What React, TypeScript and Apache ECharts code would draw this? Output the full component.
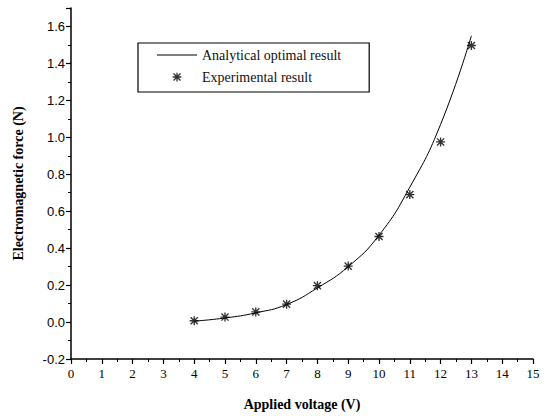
import React, { useEffect, useRef } from "react";
import * as echarts from "echarts";

const voltages = [4, 5, 6, 7, 8, 9, 10, 11, 12, 13];
const analyticalForce = [0.005, 0.022, 0.05, 0.095, 0.185, 0.3, 0.47, 0.73, 1.07, 1.55];
const experimentalForce = [0.007, 0.027, 0.055, 0.097, 0.197, 0.303, 0.463, 0.69, 0.975, 1.497];

const STAR_BODY =
  "M8.5 0H11.5V20H8.5Z M0 8.5H20V11.5H0Z M1 3.1L3.1 1L19 16.9L16.9 19Z M16.9 1L19 3.1L3.1 19L1 16.9Z M6 6H14V14H6Z";
const ASTERISK = "path://" + STAR_BODY;
const LEGEND_ASTERISK = "path://M-6 -6L-5.99 -6Z M26 26L25.99 26Z " + STAR_BODY;
const LEGEND_LINE = "path://M0 0H40V1H0Z";

export default function App() {
  const ref = useRef<HTMLDivElement>(null);
  useEffect(() => {
    const chart = echarts.init(ref.current!, null, { renderer: "svg" });
    chart.setOption({
      animation: false,
      backgroundColor: "#fff",
      grid: { left: 71, right: 16, top: 8, bottom: 57, containLabel: false },
      legend: {
        orient: "vertical",
        left: 138,
        top: 43,
        itemWidth: 40,
        itemHeight: 14,
        itemGap: 8,
        padding: [5, 28, 8, 19],
        borderColor: "#000",
        borderWidth: 1.2,
        textStyle: { fontFamily: "Liberation Serif", fontSize: 14, color: "#111" },
        data: [
          { name: "Analytical optimal result", icon: LEGEND_LINE, itemStyle: { color: "#000" } },
          { name: "Experimental result", icon: LEGEND_ASTERISK, itemStyle: { color: "#000" } },
        ],
      },
      xAxis: {
        type: "value",
        min: 0,
        max: 15,
        interval: 1,
        name: "Applied voltage (V)",
        nameLocation: "middle",
        nameGap: 38,
        nameTextStyle: { fontFamily: "Liberation Serif", fontWeight: "bold", fontSize: 14, color: "#000" },
        axisLine: { onZero: false, lineStyle: { color: "#000", width: 1.5 } },
        axisTick: { inside: false, length: 5, lineStyle: { color: "#000", width: 1.2 } },
        minorTick: { show: true, splitNumber: 2, length: 3, lineStyle: { color: "#000", width: 1 } },
        splitLine: { show: false },
        axisLabel: { fontFamily: "Liberation Serif", fontSize: 13, color: "#000", margin: 8 },
      },
      yAxis: {
        type: "value",
        min: -0.2,
        max: 1.7,
        interval: 0.2,
        name: "Electromagnetic force (N)",
        nameLocation: "middle",
        nameRotate: 90,
        nameGap: 46,
        nameTextStyle: { fontFamily: "Liberation Serif", fontWeight: "bold", fontSize: 14, color: "#000" },
        axisLine: { show: true, onZero: false, lineStyle: { color: "#000", width: 1.5 } },
        axisTick: { show: true, inside: false, length: 5, lineStyle: { color: "#000", width: 1.2 } },
        minorTick: { show: true, splitNumber: 2, length: 3, lineStyle: { color: "#000", width: 1 } },
        splitLine: { show: false },
        axisLabel: {
          fontFamily: "Liberation Sans",
          fontSize: 13,
          color: "#000",
          margin: 6,
          showMaxLabel: false,
          formatter: (v: number) => v.toFixed(1),
        },
      },
      series: [
        {
          name: "Analytical optimal result",
          type: "line",
          data: voltages.map((v, i) => [v, analyticalForce[i]]),
          smooth: true,
          symbol: "none",
          lineStyle: { color: "#000", width: 1 },
          itemStyle: { color: "#000" },
        },
        {
          name: "Experimental result",
          type: "scatter",
          data: voltages.map((v, i) => [v, experimentalForce[i]]),
          symbol: ASTERISK,
          symbolSize: 9,
          itemStyle: { color: "#000" },
        },
      ],
    });
    return () => chart.dispose();
  }, []);
  return <div ref={ref} style={{ width: 549, height: 416, position: "absolute", left: 0, top: 0 }} />;
}
